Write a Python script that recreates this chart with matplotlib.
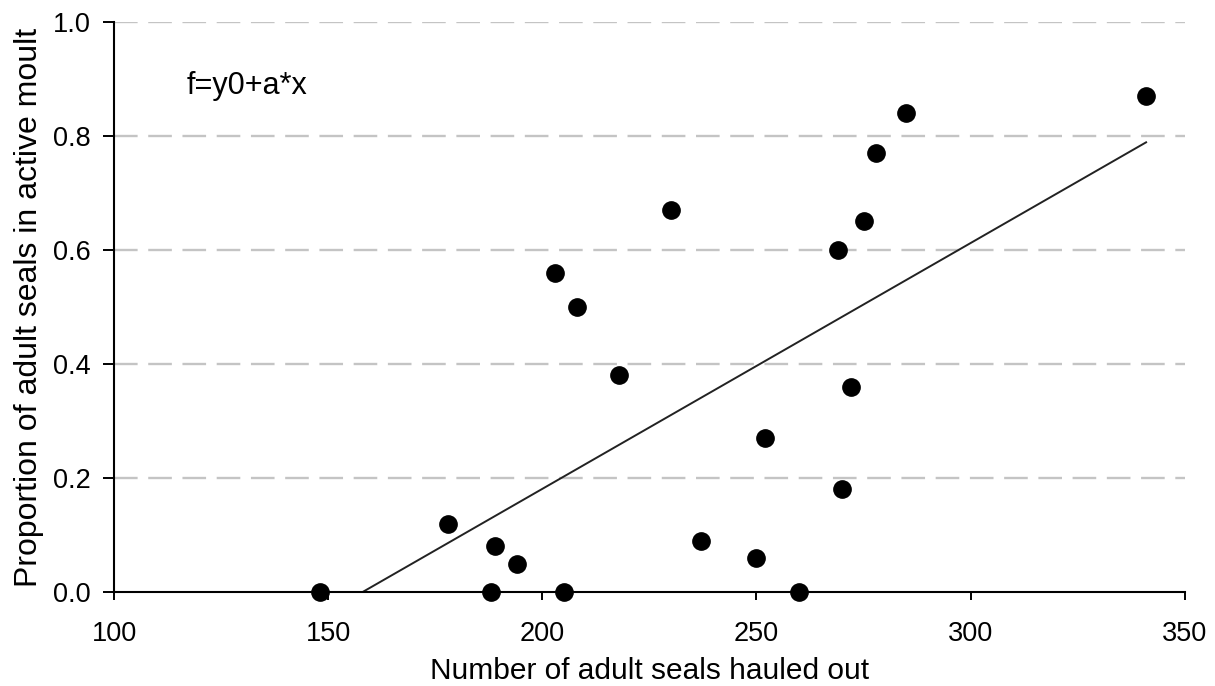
import matplotlib.pyplot as plt
import numpy as np

plt.rcParams['font.family'] = ['Liberation Sans', 'DejaVu Sans']

# number of adult seals hauled out vs proportion in active moult
seals = [148, 178, 188, 189, 194, 205, 203, 208, 218, 230, 237, 250, 252,
         260, 269, 270, 272, 275, 278, 285, 341]
moult = [0.00, 0.12, 0.00, 0.08, 0.05, 0.00, 0.56, 0.50, 0.38, 0.67, 0.09,
         0.06, 0.27, 0.00, 0.60, 0.18, 0.36, 0.65, 0.77, 0.84, 0.87]

# fitted line f = y0 + a*x
a = 0.004311
y0 = -0.6812
fit_x = np.array([158, 341])

fig = plt.figure(figsize=(12.15, 6.86), dpi=100)
ax = fig.add_axes([0.094, 0.137, 0.881, 0.831])

for yv in [0.2, 0.4, 0.6, 0.8, 1.0]:
    ax.axhline(yv, color="#c4c4c4", lw=1.7, linestyle=(0, (10, 4.5)), zorder=1)

ax.plot(fit_x, y0 + a * fit_x, color="#222222", lw=1.4, zorder=2)
ax.scatter(seals, moult, s=155, color="black", zorder=3, clip_on=False)

ax.text(117, 0.874, "f=y0+a*x", fontsize=22, va="baseline", ha="left")

ax.set_xlim(100, 350)
ax.set_ylim(0, 1.0)
ax.set_xticks([100, 150, 200, 250, 300, 350])
ax.set_yticks([0.0, 0.2, 0.4, 0.6, 0.8, 1.0])
ax.set_yticklabels(["0.0", "0.2", "0.4", "0.6", "0.8", "1.0"])

ax.spines["top"].set_visible(False)
ax.spines["right"].set_visible(False)
ax.spines["left"].set_linewidth(1.5)
ax.spines["bottom"].set_linewidth(1.5)
ax.tick_params(axis="x", direction="out", length=6, width=1.4, labelsize=19.5, pad=15)
ax.tick_params(axis="y", direction="out", length=8, width=1.4, labelsize=19.5, pad=9)

ax.set_xlabel("Number of adult seals hauled out", fontsize=21.5, va="center")
ax.set_ylabel("Proportion of adult seals in active moult", fontsize=23, va="center")
ax.xaxis.set_label_coords(0.5, -0.139)
ax.yaxis.set_label_coords(-0.08, 0.5)

fig.savefig("out.png", dpi=100)
